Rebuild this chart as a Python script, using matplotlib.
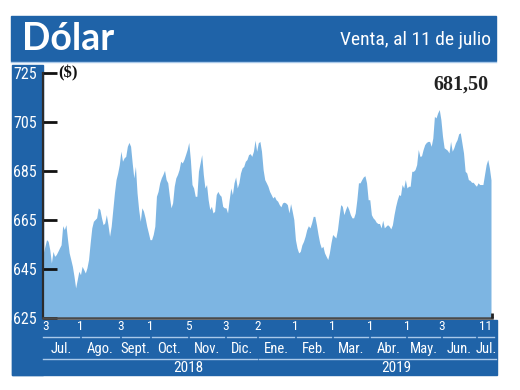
import numpy as np
import matplotlib
matplotlib.use("Agg")
import matplotlib.pyplot as plt
from matplotlib import font_manager, transforms
from matplotlib.patches import Rectangle
from matplotlib.lines import Line2D

# ---------------- data ----------------
values = [
    651.7, 654.4, 657.1, 656.4, 653.0, 647.6, 652.3, 650.3, 651.0, 652.3, 653.7, 655.0, 662.8, 661.2, 663.2,
    657.1, 651.7, 649.0, 646.2, 642.1, 637.4, 640.8, 644.2, 642.8, 646.2, 644.9, 643.5, 645.6, 649.0, 655.8,
    661.9, 664.6, 665.3, 666.0, 670.1, 669.4, 666.0, 663.2, 663.9, 667.3, 663.2, 658.5, 662.6, 669.4, 676.2,
    681.6, 684.3, 687.7, 693.2, 689.1, 690.5, 691.1, 695.2, 696.8, 695.2,
    688.4, 682.3, 687.0, 676.2, 669.4, 664.6, 670.1, 668.7, 666.0, 662.6, 659.9, 657.1, 657.1, 659.2, 662.6,
    674.8, 676.8, 680.3, 682.3, 683.7, 685.4, 681.6, 680.3, 674.8, 670.1, 672.1, 678.9, 682.3, 683.7, 685.7,
    689.1, 688.4, 689.8, 691.8, 693.9, 696.8, 689.8, 679.6, 678.2, 674.8, 674.8, 685.0, 688.4, 691.8, 683.7,
    678.2, 679.6, 673.4, 669.4, 670.7, 668.0, 668.7, 675.5, 676.8, 675.5, 674.8, 670.7, 670.1,
    670.1, 668.0, 673.4, 678.2, 675.5, 680.3, 682.7, 678.2, 680.3, 684.3, 686.4, 687.0, 689.1, 689.8, 691.8,
    692.2, 691.1, 693.2, 697.7, 693.2, 696.6, 697.2, 693.2, 685.7, 681.6, 680.3, 678.9, 676.8, 675.5, 674.1,
    674.8, 673.4, 672.8, 671.4, 670.5, 672.1, 672.4, 672.1, 671.4, 668.0, 671.8, 668.7, 665.3, 657.1, 653.7,
    651.7, 652.3, 655.0, 656.4, 658.5, 661.2, 662.8, 661.9, 663.9, 666.6,
    666.6, 663.2, 659.2, 655.8, 653.7, 654.4, 651.7, 650.3, 649.0, 651.7, 655.8, 659.2, 658.5, 657.8, 661.2,
    666.6, 671.4, 670.7, 667.3, 669.4, 671.0, 669.4, 667.3, 666.0, 666.0, 668.0, 673.4, 680.3, 680.3, 681.6,
    682.7, 683.2, 680.3, 673.4, 673.4, 667.3, 666.0, 665.3, 664.2, 663.7, 663.7, 661.9, 665.0, 661.9, 662.6,
    663.2, 662.6, 661.5, 663.2, 667.3, 670.7, 673.4, 675.5, 675.1, 679.6,
    678.2, 681.6, 678.2, 678.9, 678.9, 685.0, 685.0, 685.7, 687.7, 693.9, 691.1, 691.3, 693.9, 695.9, 696.8,
    697.2, 697.2, 695.2, 698.6, 707.4, 706.8, 708.8, 710.2, 706.1, 699.3, 694.6, 694.1, 693.6, 692.5, 697.2,
    693.2, 694.6, 696.6, 697.9, 700.3, 700.7, 696.6, 692.5, 685.0, 684.3, 681.6, 681.3, 680.5, 680.5, 679.6,
    678.9, 680.3, 679.6, 679.6, 679.6, 683.7, 687.7, 689.8, 686.4, 681.5,
]

month_names = ["Jul.", "Ago.", "Sept.", "Oct.", "Nov.", "Dic.", "Ene.", "Feb.", "Mar.", "Abr.", "May.", "Jun.", "Jul."]
month_start = [-0.5, 23.0, 47.7, 66.3, 89.8, 113.0, 132.8, 156.0, 178.8, 202.0, 224.9, 246.6, 267.9]
range_end = 280.0
tick_labels = ["3", "1", "3", "1", "5", "3", "2", "1", "1", "1", "1", "3", ""]
end_label = "11"
years = ["2018", "2019"]
year_label_pos = [89.5, 218.5]
year_spans = [(-0.5, 132.2), (133.5, 280.0)]
yticks = [625, 645, 665, 685, 705, 725]

title = "Dólar"
subtitle = "Venta, al 11 de julio"
unit = "($)"
last_value_label = "681,50"

# ---------------- fonts ----------------
names = {f.name for f in font_manager.fontManager.ttflist}
narrow = None
for cand in ["Liberation Sans Narrow", "Roboto Condensed", "Open Sans Condensed", "DejaVu Sans Condensed"]:
    if cand in names:
        narrow = cand
        break
narrow_kw = {"family": narrow} if narrow else {"family": "DejaVu Sans", "stretch": "condensed"}
serif = "Liberation Serif" if "Liberation Serif" in names else "DejaVu Serif"
head = "Lato" if "Lato" in names else "DejaVu Sans"

BAND = "#1f63a8"
FILL = "#7db5e2"
LINE_LIGHT = "#a9c9ea"

W, H = 520, 390
fig = plt.figure(figsize=(W / 100, H / 100), dpi=100)
fig.patch.set_facecolor("white")

def fx(x):
    return x / W

def fy(y):
    return 1 - y / H

# background bands (figure coordinates)
fig.patches.append(Rectangle((fx(11), fy(60.5)), fx(496) - fx(11), fy(16) - fy(60.5),
                             transform=fig.transFigure, color=BAND, zorder=-5))
fig.lines.append(Line2D([fx(11), fx(496)], [fy(61.5), fy(61.5)], transform=fig.transFigure,
                        color=LINE_LIGHT, lw=1.0, zorder=-4))
fig.patches.append(Rectangle((fx(11.5), fy(375)), fx(42.5) - fx(11.5), fy(65) - fy(375),
                             transform=fig.transFigure, color=BAND, zorder=-5))
fig.patches.append(Rectangle((fx(11.5), fy(375)), fx(496.5) - fx(11.5), fy(319.5) - fy(375),
                             transform=fig.transFigure, color=BAND, zorder=-5))

fig.text(fx(22), fy(38.5), title, color="white", fontsize=27, fontweight="bold",
         family=head, ha="left", va="center")
fig.text(fx(491.5), fy(40), subtitle, color="white", fontsize=14, ha="right", va="center", **narrow_kw)

# ---------------- axes ----------------
ax_left, ax_right = 42.5, 491.8
ax_top, ax_bot = 73.3, 318.3
ax = fig.add_axes([fx(ax_left), fy(ax_bot), fx(ax_right) - fx(ax_left), fy(ax_top) - fy(ax_bot)])
ax.set_facecolor("none")
ax.set_zorder(1)
x = np.arange(len(values))
ax.fill_between(x, values, 625, color=FILL, lw=0, zorder=1)
ax.set_xlim(-0.5, len(values) - 0.5)
ax.set_ylim(625, 725)
ax.set_yticks(yticks)
ax.set_xticks([])
for s in ["top", "right"]:
    ax.spines[s].set_visible(False)
ax.spines["left"].set_color("#2b2b2b")
ax.spines["left"].set_linewidth(1.6)
ax.spines["bottom"].set_color("#4a4a4a")
ax.spines["bottom"].set_linewidth(1.8)
ax.tick_params(axis="y", direction="in", length=10, width=2, color="#111111",
               labelcolor="white", labelsize=11, pad=4)
for lab in ax.get_yticklabels():
    lab.set_fontproperties(font_manager.FontProperties(**narrow_kw, size=11.5))
    lab.set_color("white")

# small mark at right end of baseline
ax.plot([len(values) - 0.5, len(values) - 0.5], [625, 627.2], color="#222222", lw=2,
        clip_on=False, zorder=5, solid_capstyle="butt")

ax.text(0.035, 1.0, unit, transform=ax.transAxes, fontsize=12, fontweight="bold",
        family=serif, ha="left", va="center", color="#111111")
ax.text(0.993, 0.955, last_value_label, transform=ax.transAxes, fontsize=14.5, fontweight="bold",
        family=serif, ha="right", va="center", color="#222222")

# ---------------- custom x band ----------------
bt = transforms.blended_transform_factory(ax.transData, fig.transFigure)
bounds = month_start + [range_end]
gap = 0.9
for i, name in enumerate(month_names):
    a, b = bounds[i], bounds[i + 1]
    ax.add_line(Line2D([a + (gap if i > 0 else 0), b - gap], [fy(336.5), fy(336.5)], transform=bt,
                       color=LINE_LIGHT, lw=1.0, clip_on=False))
    ax.text((a + b) / 2, fy(349), name, transform=bt, color="white", fontsize=10.5,
            ha="center", va="center", clip_on=False, **narrow_kw)
    if tick_labels[i]:
        ha = "left" if i == 0 else "center"
        ax.text(a if i > 0 else a - 0.3, fy(326), tick_labels[i], transform=bt, color="white",
                fontsize=9.5, ha=ha, va="center", clip_on=False, **narrow_kw)
ax.text(len(values) - 0.3, fy(326), end_label, transform=bt, color="white", fontsize=9.5,
        ha="right", va="center", clip_on=False, **narrow_kw)

for (a, b), lbl, pos in zip(year_spans, years, year_label_pos):
    ax.add_line(Line2D([a, b], [fy(359), fy(359)], transform=bt, color=LINE_LIGHT, lw=1.0, clip_on=False))
    ax.text(pos, fy(367.5), lbl, transform=bt, color="white", fontsize=11,
            ha="center", va="center", clip_on=False, **narrow_kw)

fig.savefig("out.png", dpi=100, facecolor="white")
